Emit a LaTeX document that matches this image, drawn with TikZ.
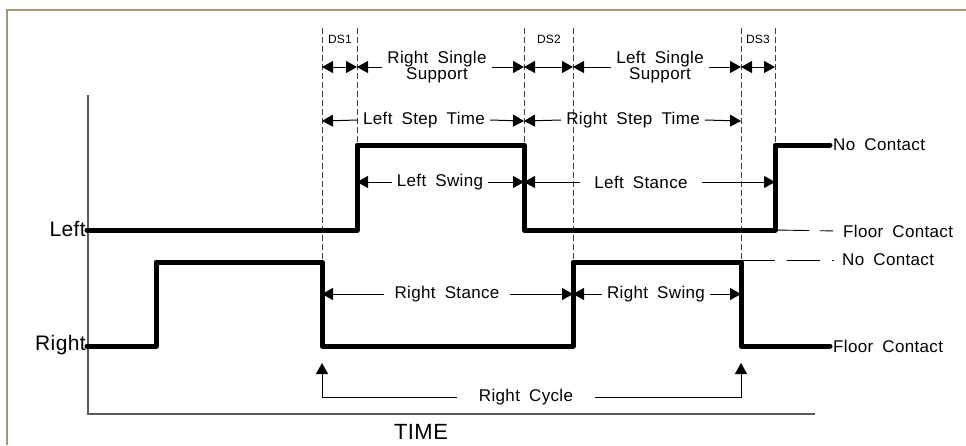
\documentclass[tikz,border=0pt]{standalone}
\usepackage{fontspec}
\setmainfont{Liberation Sans}[WordSpace=1.8, LetterSpace=2]
\usetikzlibrary{arrows.meta}
\definecolor{frameol}{HTML}{A0996E}
\definecolor{axisgray}{HTML}{5A5A5A}
\begin{document}
\begin{tikzpicture}[x=1pt,y=-1pt,
  sig/.style={line width=5pt, line join=round, line cap=round},
  guide/.style={dash pattern=on 6pt off 3pt, line width=0.9pt, draw=black!75},
  dimarr/.style={line width=1pt, -{Triangle[length=11pt,width=12pt]}},
  dimboth/.style={line width=1pt, {Triangle[length=11pt,width=12pt]}-{Triangle[length=11pt,width=12pt]}},
  lbl/.style={font=\fontsize{17}{16}\selectfont, inner xsep=5pt, inner ysep=2pt, align=center},
  dslbl/.style={font=\fontsize{12}{12}\selectfont, inner sep=1pt},
  side/.style={font=\fontsize{21}{22}\selectfont, inner sep=1pt, anchor=east},
  thinl/.style={line width=0.9pt},
]
\useasboundingbox (0,0) rectangle (966,445);
% frame
\draw[frameol, line width=2pt] (7,445) -- (7,10) -- (966,10);
% axes
\coordinate (ax0) at (88,414);
\coordinate (axtop) at (88,95);
\coordinate (axend) at (815,414);
\draw[axisgray, line width=1.5pt] (axtop) -- (ax0) -- (axend);
\node[font=\fontsize{22}{22}\selectfont, inner sep=0pt] (time) at (421,432) {TIME};

% time marks and levels
\coordinate (T0) at (156,0);
\coordinate (T1) at (322,0);
\coordinate (T2) at (357,0);
\coordinate (T3) at (524,0);
\coordinate (T4) at (573,0);
\coordinate (T5) at (741,0);
\coordinate (T6) at (775,0);
\coordinate (Ttop) at (0,28);
\coordinate (LH) at (0,145);
\coordinate (LL) at (0,230);
\coordinate (RH) at (0,262);
\coordinate (RL) at (0,346);
\coordinate (NCL) at (0,260);
\coordinate (R1) at (0,67);
\coordinate (R2) at (0,121);
\coordinate (R3) at (0,182);
\coordinate (R4) at (0,294);
\coordinate (R5) at (0,397);
\coordinate (RC) at (0,363);

% dashed guides
\draw[guide] (T1|-Ttop) -- (T1|-RH);
\draw[guide] (T2|-Ttop) -- (T2|-LH);
\draw[guide] (T3|-Ttop) -- (T3|-LH);
\draw[guide] (T4|-Ttop) -- (T4|-RH);
\draw[guide] (T5|-Ttop) -- (T5|-RH);
\draw[guide] (T6|-Ttop) -- (T6|-LH);

% side labels
\node[side] (leftlbl) at (87,229) {Left};
\node[side] (rightlbl) at (87,345) {Right};

% legend nodes on the right
\node[lbl, anchor=west, inner xsep=3pt] (nc1) at (830,145) {No Contact};
\node[lbl, anchor=west] (fc1) at (838,231) {Floor Contact};
\node[lbl, anchor=west] (nc2) at (837,260) {No Contact};
\node[lbl, anchor=west, inner xsep=3pt] (fc2) at (830,346) {Floor Contact};

% signals
\draw[sig] (leftlbl.east|-LL) -- (T2|-LL) -- (T2|-LH) -- (T3|-LH) -- (T3|-LL)
  -- (T6|-LL) -- (T6|-LH) -- (nc1.west);
\draw[sig] (rightlbl.east|-RL) -- (T0|-RL) -- (T0|-RH) -- (T1|-RH) -- (T1|-RL)
  -- (T4|-RL) -- (T4|-RH) -- (T5|-RH) -- (T5|-RL) -- (fc2.west);

% thin legend leaders
\draw[thinl, dash pattern=on 34pt off 11pt on 13pt off 20pt] (T6|-LL) -- (fc1.west);
\draw[thinl, dash pattern=on 34pt off 12pt on 33pt off 12pt on 1.5pt off 20pt] (T5|-NCL) -- (nc2.west);

% row 1: DS and single support
\node[dslbl] (ds1) at (340,39) {DS1};
\node[dslbl] (ds2) at (549,39) {DS2};
\node[dslbl] (ds3) at (758,39) {DS3};
\draw[dimboth] (T1|-R1) -- (T2|-R1);
\draw[dimboth] (T3|-R1) -- (T4|-R1);
\draw[dimboth] (T5|-R1) -- (T6|-R1);
\node[lbl] (rss) at (437,67) {Right Single\\Support};
\draw[dimarr] (rss.west) -- (T2|-R1);
\draw[dimarr] (rss.east) -- (T3|-R1);
\node[lbl] (lss) at (660,67) {Left Single\\Support};
\draw[dimarr] (lss.west) -- (T4|-R1);
\draw[dimarr] (lss.east) -- (T5|-R1);

% row 2: step times
\node[lbl] (lst) at (424,120) {Left Step Time};
\draw[dimarr] (lst.west) -- (T1|-R2);
\draw[dimarr] (lst.east) -- (T3|-R2);
\node[lbl] (rst) at (633,120) {Right Step Time};
\draw[dimarr] (rst.west) -- (T3|-R2);
\draw[dimarr] (rst.east) -- (T5|-R2);

% row 3: left swing / stance
\node[lbl] (lsw) at (440,182) {Left Swing};
\draw[dimarr] (lsw.west) -- (T2|-R3);
\draw[dimarr] (lsw.east) -- (T3|-R3);
\node[lbl, inner xsep=14pt] (lsta) at (641,182) {Left Stance};
\draw[dimarr] (lsta.west) -- (T3|-R3);
\draw[dimarr] (lsta.east) -- (T6|-R3);

% row 4: right stance / swing
\node[lbl, inner xsep=10pt] (rsta) at (447,294) {Right Stance};
\draw[dimarr] (rsta.west) -- (T1|-R4);
\draw[dimarr] (rsta.east) -- (T4|-R4);
\node[lbl] (rsw) at (656,294) {Right Swing};
\draw[dimarr] (rsw.west) -- (T4|-R4);
\draw[dimarr] (rsw.east) -- (T5|-R4);

% row 5: right cycle
\node[lbl, inner xsep=22pt] (rcy) at (526,397) {Right Cycle};
\draw[dimarr] (rcy.west) -| (T1|-RC);
\draw[dimarr] (rcy.east) -| (T5|-RC);
\end{tikzpicture}
\end{document}
